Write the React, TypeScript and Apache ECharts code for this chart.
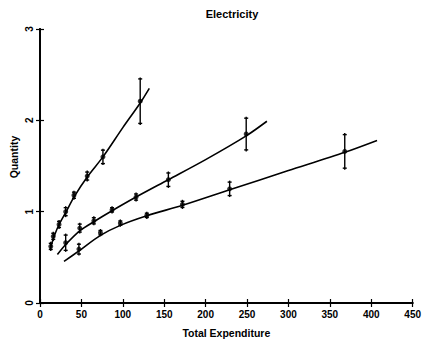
import React, { useEffect, useRef } from "react";
import * as echarts from "echarts";

const xTicks = [0, 50, 100, 150, 200, 250, 300, 350, 400, 450];
const yTicks = [0, 1, 2, 3];

const aX = [13, 16, 23, 31, 41, 57, 76, 121];
const aY = [0.62, 0.73, 0.86, 1.0, 1.18, 1.39, 1.6, 2.21];
const aErr = [0.05, 0.05, 0.05, 0.06, 0.05, 0.06, 0.09, 0.26];

const bX = [31, 48, 65, 87, 116, 155, 249];
const bY = [0.66, 0.82, 0.9, 1.02, 1.16, 1.35, 1.85];
const bErr = [0.1, 0.06, 0.05, 0.04, 0.05, 0.09, 0.19];

const cX = [47, 73, 97, 129, 172, 229, 368];
const cY = [0.59, 0.77, 0.875, 0.96, 1.08, 1.25, 1.66];
const cErr = [0.07, 0.04, 0.04, 0.04, 0.05, 0.09, 0.2];

const fitAX = [12, 16, 22, 31, 41, 57, 76, 100, 121, 132];
const fitAY = [0.58, 0.7, 0.84, 0.99, 1.16, 1.38, 1.6, 1.92, 2.19, 2.35];
const fitBX = [21, 31, 48, 65, 87, 116, 155, 200, 249, 274];
const fitBY = [0.53, 0.64, 0.79, 0.89, 1.01, 1.16, 1.35, 1.57, 1.83, 1.99];
const fitCX = [29, 47, 73, 97, 129, 172, 229, 300, 368, 407];
const fitCY = [0.455, 0.57, 0.74, 0.85, 0.955, 1.07, 1.24, 1.45, 1.65, 1.78];

const FONT = "Liberation Sans, Arial, sans-serif";

function zip(xs: number[], ys: number[]) {
  return xs.map((x, i) => [x, ys[i]]);
}
function zip3(xs: number[], ys: number[], es: number[]) {
  return xs.map((x, i) => [x, ys[i], es[i]]);
}

function errorSeries(data: number[][]) {
  return {
    type: "custom",
    data,
    z: 3,
    renderItem: (params: any, api: any) => {
      const x = api.value(0);
      const y = api.value(1);
      const e = api.value(2);
      const top = api.coord([x, y + e]);
      const bot = api.coord([x, y - e]);
      const st = { stroke: "#000", lineWidth: 1.4 };
      const cap = 2;
      return {
        type: "group",
        children: [
          { type: "line", shape: { x1: top[0], y1: top[1], x2: bot[0], y2: bot[1] }, style: st },
          { type: "line", shape: { x1: top[0] - cap, y1: top[1] + 1.5, x2: top[0] + cap, y2: top[1] + 1.5 }, style: st },
          { type: "line", shape: { x1: bot[0] - cap, y1: bot[1] - 1.5, x2: bot[0] + cap, y2: bot[1] - 1.5 }, style: st },
        ],
      };
    },
  };
}

function lineSeries(data: number[][]) {
  return {
    type: "line",
    data,
    smooth: 0.3,
    symbol: "none",
    lineStyle: { color: "#000", width: 1.6 },
    z: 2,
  };
}

function dotSeries(data: number[][]) {
  return {
    type: "scatter",
    data,
    symbol: "circle",
    symbolSize: 5,
    itemStyle: { color: "#000" },
    z: 4,
  };
}

export default function App() {
  const ref = useRef<HTMLDivElement>(null);
  useEffect(() => {
    if (!ref.current) return;
    const chart = echarts.init(ref.current, null, { renderer: "svg" });
    const axisLine = { show: true, lineStyle: { color: "#000", width: 1.8 } };
    const axisTick = { show: true, inside: true, length: 4, lineStyle: { color: "#000", width: 1.2 } };
    chart.setOption({
      animation: false,
      backgroundColor: "#fff",
      title: {
        text: "Electricity",
        left: 227,
        top: 3,
        textAlign: "center",
        textStyle: { fontFamily: FONT, fontWeight: "bold", fontSize: 11, color: "#000" },
      },
      grid: { left: 40, right: 9, top: 29, bottom: 43 },
      xAxis: [
        {
          type: "value",
          min: xTicks[0],
          max: xTicks[xTicks.length - 1],
          interval: 50,
          position: "bottom",
          axisLine,
          axisTick,
          splitLine: { show: false },
          axisLabel: {
            color: "#000",
            fontFamily: FONT,
            fontWeight: "bold",
            fontSize: 10,
            margin: 6,
          },
          name: "Total Expenditure",
          nameLocation: "middle",
          nameGap: 24,
          nameTextStyle: { fontFamily: FONT, fontWeight: "bold", fontSize: 10.5, color: "#000" },
        },
        {
          type: "value",
          min: xTicks[0],
          max: xTicks[xTicks.length - 1],
          interval: 50,
          position: "top",
          axisLine,
          axisTick,
          axisLabel: { show: false },
          splitLine: { show: false },
        },
      ],
      yAxis: [
        {
          type: "value",
          min: yTicks[0],
          max: yTicks[yTicks.length - 1],
          interval: 1,
          position: "left",
          axisLine,
          axisTick,
          splitLine: { show: false },
          axisLabel: {
            color: "#000",
            fontFamily: FONT,
            fontWeight: "bold",
            fontSize: 10,
            rotate: 90,
            margin: 6,
          },
        },
        {
          type: "value",
          min: yTicks[0],
          max: yTicks[yTicks.length - 1],
          interval: 1,
          position: "right",
          axisLine,
          axisTick,
          axisLabel: { show: false },
          splitLine: { show: false },
        },
      ],
      graphic: [
        {
          type: "text",
          x: 14,
          y: 157,
          rotation: Math.PI / 2,
          style: {
            text: "Quantity",
            fontFamily: FONT,
            fontWeight: "bold",
            fontSize: 10.5,
            fill: "#000",
            align: "center",
            verticalAlign: "middle",
          },
        },
      ],
      series: [
        lineSeries(zip(fitAX, fitAY)),
        lineSeries(zip(fitBX, fitBY)),
        lineSeries(zip(fitCX, fitCY)),
        errorSeries(zip3(aX, aY, aErr)),
        errorSeries(zip3(bX, bY, bErr)),
        errorSeries(zip3(cX, cY, cErr)),
        dotSeries(zip(aX, aY)),
        dotSeries(zip(bX, bY)),
        dotSeries(zip(cX, cY)),
      ],
    });
    return () => chart.dispose();
  }, []);
  return <div ref={ref} style={{ width: 424, height: 346, position: "absolute", left: 0, top: 0 }} />;
}
